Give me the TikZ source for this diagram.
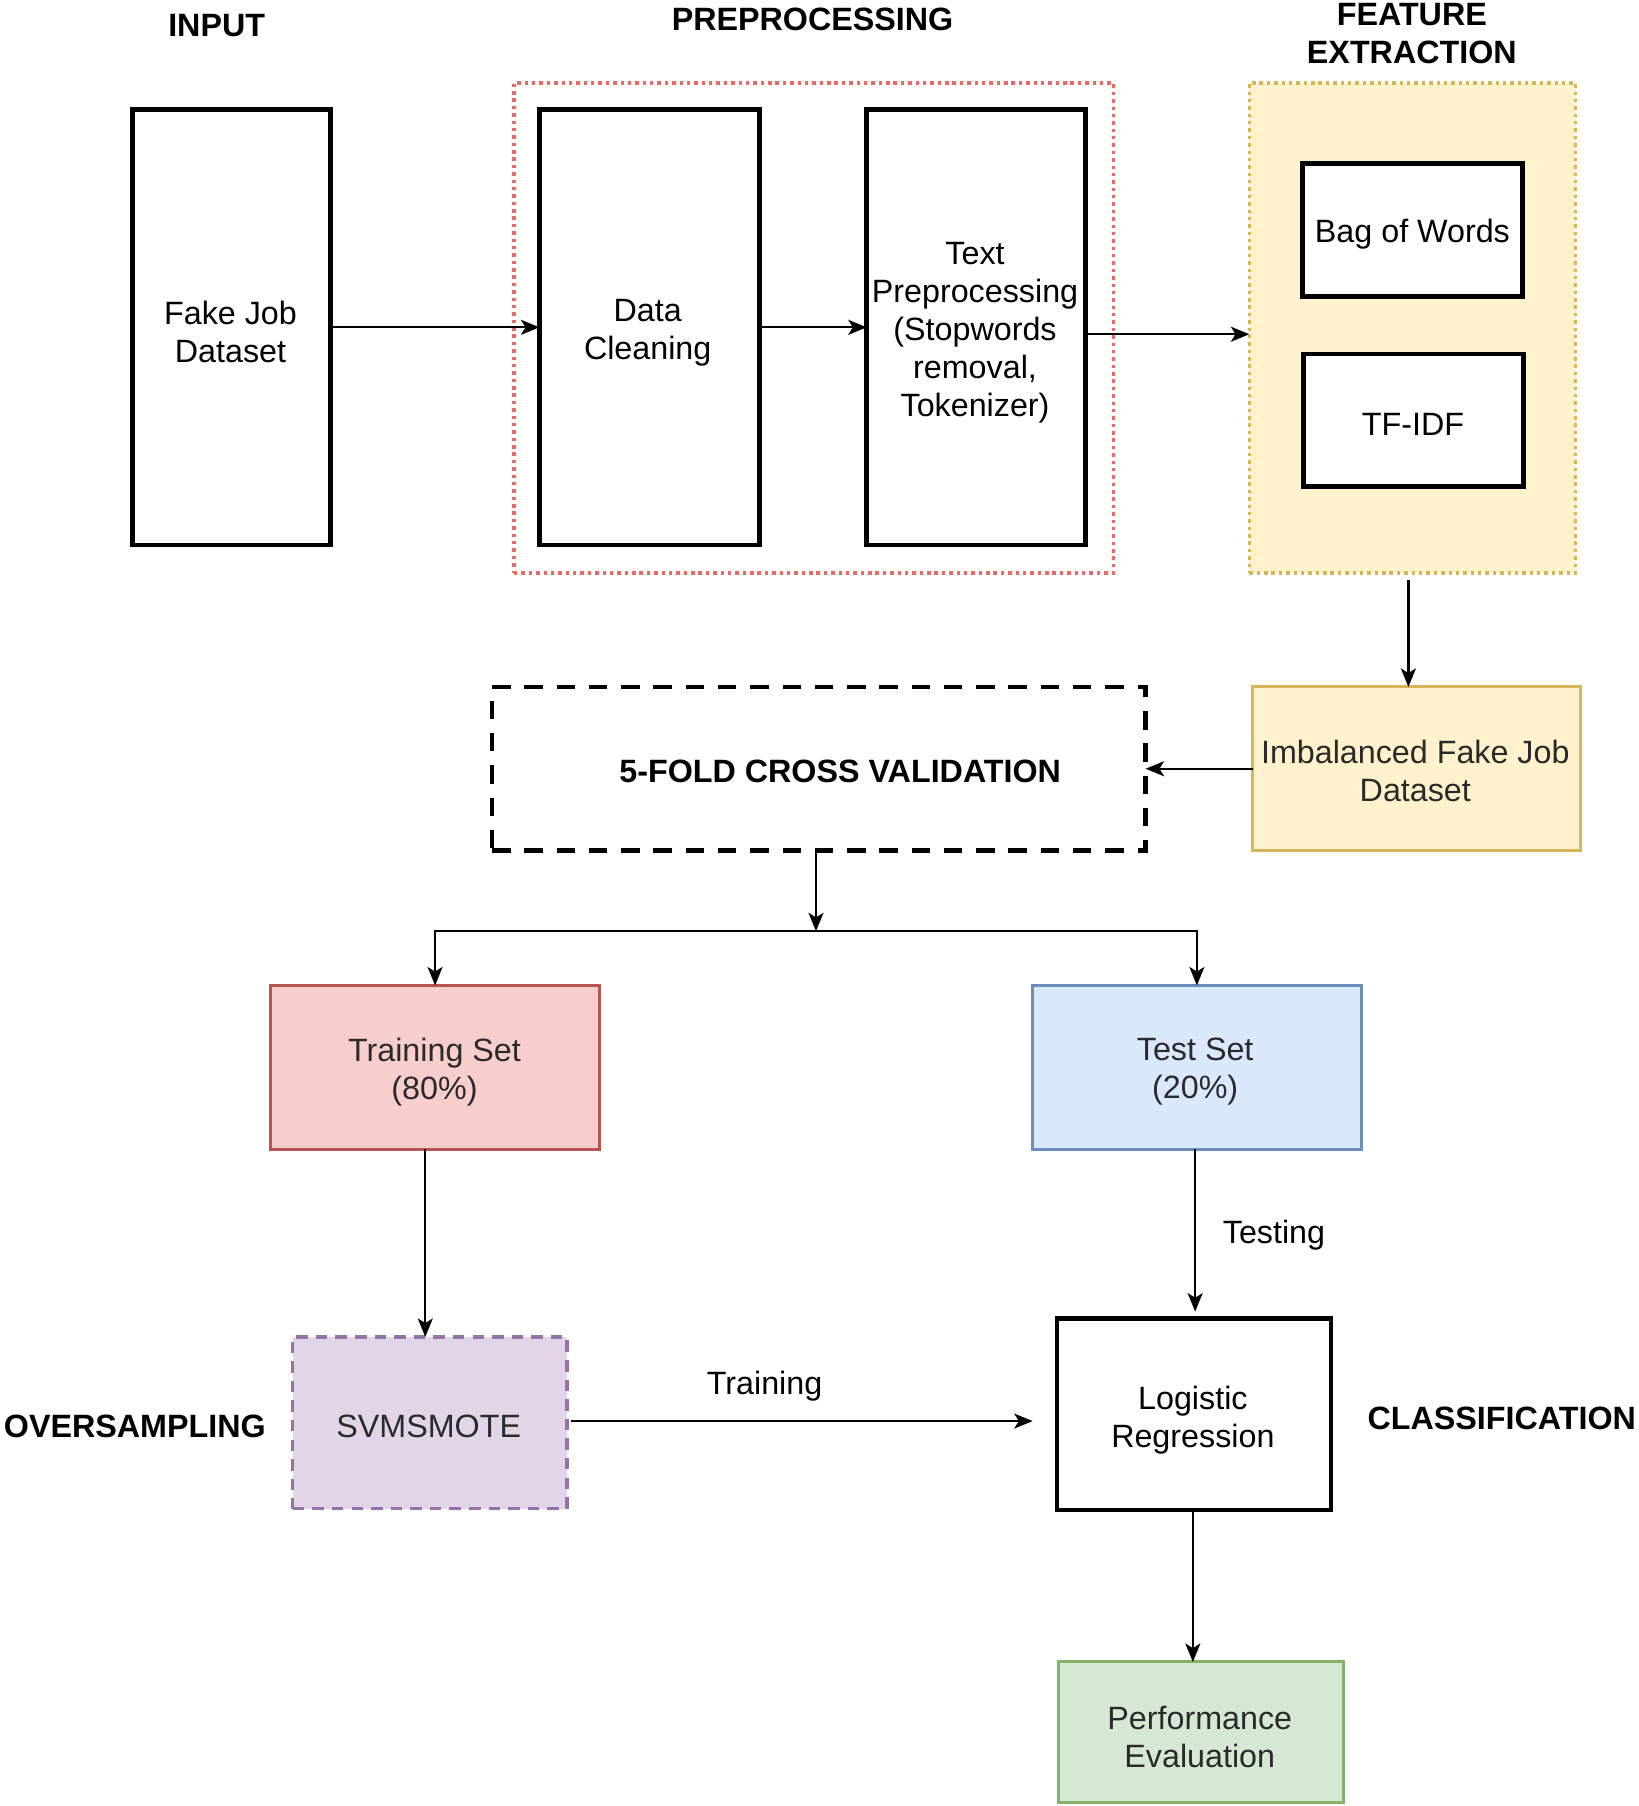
\documentclass[tikz,border=0pt]{standalone}
\usepackage{fontspec}
\setmainfont{Liberation Sans}
\usetikzlibrary{arrows.meta}
\definecolor{redbd}{HTML}{EA6B66}
\definecolor{yelfill}{HTML}{FFF2CC}
\definecolor{yelbd}{HTML}{D6B656}
\definecolor{redfill}{HTML}{F8CECC}
\definecolor{redline}{HTML}{B85450}
\definecolor{bluefill}{HTML}{DAE8FC}
\definecolor{blueline}{HTML}{6C8EBF}
\definecolor{purfill}{HTML}{E1D5E7}
\definecolor{purline}{HTML}{9673A6}
\definecolor{grnfill}{HTML}{D5E8D4}
\definecolor{grnline}{HTML}{82B366}
\definecolor{txtgray}{HTML}{2A2A2A}
\tikzset{
  every node/.style={font=\fontsize{28}{33}\selectfont, inner sep=0pt, outer sep=0pt, align=center},
  blackbox/.style={draw=black, line width=4pt, fill=white},
  colbox/.style={line width=2.6pt},
  graytxt/.style={text=txtgray},
  hdr/.style={font=\fontsize{28}{33}\selectfont\bfseries},
  arr/.style={draw=black, line width=2pt, -{Stealth[length=16pt,width=13pt,inset=4pt]}},
}
\begin{document}
\begin{tikzpicture}[x=1pt,y=-1pt]
\useasboundingbox (0,0) rectangle (1422,1567);
\fill[white] (0,0) rectangle (1422,1567);

% headers
\node[hdr] (hin) at (188,22) {INPUT};
\node[hdr] (hpre) at (705,17) {PREPROCESSING};
\node[hdr] (hfe) at (1225,29) {FEATURE\\EXTRACTION};
\node[hdr] (hover) at (117,1238) {OVERSAMPLING};
\node[hdr] (hcls) at (1303,1231) {CLASSIFICATION};

% containers
\node[draw=redbd, line width=3pt, dash pattern=on 3pt off 3.4pt, minimum width=520pt, minimum height=425pt] (pre) at (706,284.5) {};
\node[draw=yelbd, fill=yelfill, line width=3pt, dash pattern=on 3pt off 3.4pt, minimum width=283pt, minimum height=425pt] (fe) at (1225.5,284.5) {};

% top boxes
\node[blackbox, minimum width=172pt, minimum height=378pt] (fj) at (201,284) {};
\node (fjt) at (200,288) {Fake Job\\Dataset};
\node[blackbox, minimum width=191pt, minimum height=378pt] (dc) at (563.5,284) {};
\node (dct) at (562,289) {Data\\Cleaning};
\node[blackbox, minimum width=190pt, minimum height=378pt] (tp) at (847,284) {};
\node (tpt) at (846,289) {Text\\Preprocessing\\(Stopwords\\removal,\\Tokenizer)};
\node[blackbox, minimum width=191pt, minimum height=115pt] (bow) at (1225.5,199.5) {};
\node (bowt) at (1225.5,203) {Bag of Words};
\node[blackbox, minimum width=191pt, minimum height=115pt] (tfidf) at (1226.5,364.5) {};
\node (tfidft) at (1226,368) {TF-IDF};

% middle
\node[colbox, draw=yelbd, fill=yelfill, minimum width=284pt, minimum height=142pt] (imb) at (1229,667) {};
\node[graytxt] (imbt) at (1228,669) {Imbalanced Fake Job\\Dataset};
\node[draw=black, line width=4pt, dash pattern=on 16pt off 12pt, minimum width=567pt, minimum height=142pt] (cv) at (710.5,667) {};
\node[hdr] (cvt) at (729,669) {5-FOLD CROSS VALIDATION};

\node[colbox, draw=redline, fill=redfill, minimum width=285pt, minimum height=142pt] (tr) at (377.5,926) {};
\node[graytxt] (trt) at (377,930) {Training Set\\(80\%)};
\node[colbox, draw=blueline, fill=bluefill, minimum width=285pt, minimum height=142pt] (te) at (1038.5,926) {};
\node[graytxt] (tet) at (1037,930) {Test Set\\(20\%)};

% bottom
\node[colbox, draw=purline, fill=purfill, line width=3pt, dash pattern=on 10pt off 7pt, minimum width=238pt, minimum height=149pt] (sv) at (373,1234.5) {};
\node[graytxt] (svt) at (372,1238) {SVMSMOTE};
\node[blackbox, minimum width=238pt, minimum height=166pt] (lr) at (1036,1227) {};
\node (lrt) at (1035,1232) {Logistic\\Regression};
\node[colbox, draw=grnline, fill=grnfill, minimum width=248pt, minimum height=122pt] (pe) at (1042,1503) {};
\node[graytxt] (pet) at (1041,1507) {Performance\\Evaluation};

% coordinates
\coordinate (split) at (708,808);
\coordinate (tpout) at (942,290);
\coordinate (fein) at (1084,290);
\coordinate (feout) at (1222,503);
\coordinate (imbin) at (1222,596);
\coordinate (trout) at (369,997);
\coordinate (svin) at (369,1160);
\coordinate (teout) at (1037,997);
\coordinate (lrin) at (1037,1138);
\coordinate (svout) at (495,1233);
\coordinate (lrw) at (896,1233);
\coordinate (lrout) at (1035,1310);
\coordinate (pein) at (1035,1442);

% connectors
\draw[arr] (fj) -- (dc);
\draw[arr] (dc) -- (tp);
\draw[arr] (tpout) -- (fein);
\draw[arr] (feout) -- (imbin);
\draw[arr] (imb.west) -- (cv.east);
\draw[arr] (cv.south -| split) -- (split);
\draw[arr] (split) -| (tr.north);
\draw[arr] (split) -| (te.north);
\draw[arr] (trout) -- (svin);
\draw[arr] (teout) -- (lrin) node[pos=0.53, right=24pt] (ltest) {Testing};
\draw[arr] (svout) -- (lrw) node[pos=0.42, above=17pt] (ltrain) {Training};
\draw[arr] (lrout) -- (pein);
\end{tikzpicture}
\end{document}
